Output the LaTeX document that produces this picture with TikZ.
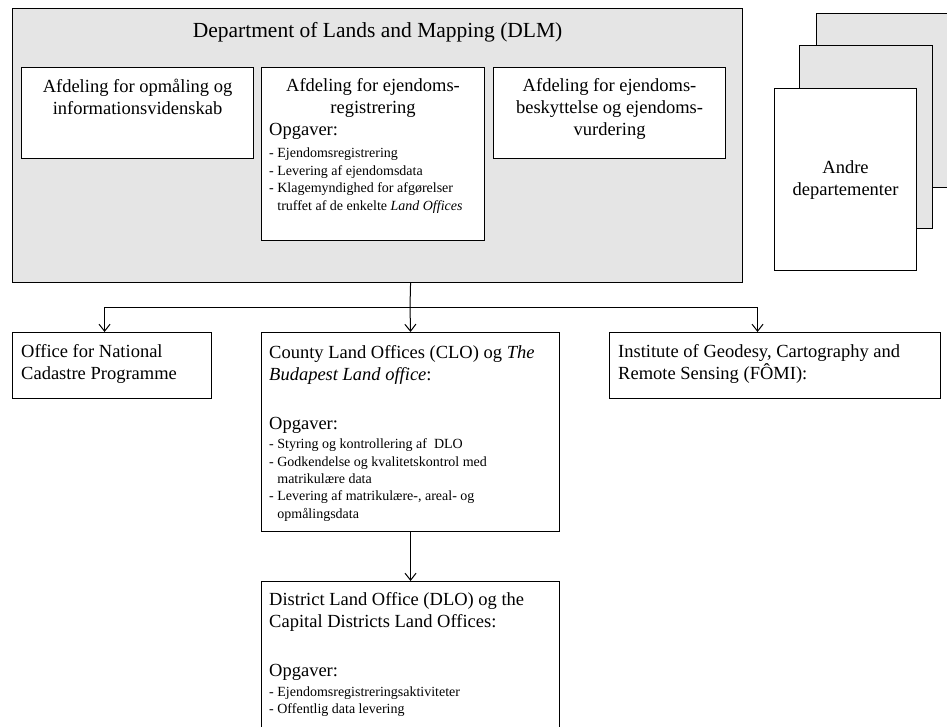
\documentclass[tikz,border=0pt]{standalone}
\usepackage{fontspec}
\setmainfont{Liberation Serif}
\usepackage{xcolor}
\usetikzlibrary{positioning,arrows.meta}
\setlength{\parindent}{0pt}
\definecolor{dlmgray}{gray}{0.9}
\newcommand{\titletxt}{\fontsize{21.5}{26}\selectfont}
\newcommand{\bigtxt}{\fontsize{18.5}{22}\selectfont}
\newcommand{\smalltxt}{\fontsize{14}{17.4}\selectfont}

\begin{document}
\begin{tikzpicture}[
    x=1pt, y=-1pt,
    frame/.style={draw, line width=1.1pt, fill=white, anchor=north west, inner sep=0pt},
    grayframe/.style={frame, fill=dlmgray},
    ctxt/.style={inner sep=0pt, anchor=north, align=center, font=\bigtxt},
    ltxt/.style={inner sep=0pt, anchor=north west, align=flush left, font=\bigtxt},
    arrow/.style={-{Straight Barb[length=7pt,width=11pt]}, line width=1pt}
]
    \useasboundingbox (0,0) rectangle (947,726);
    \clip (0,0) rectangle (947,726);

    % DLM and its departments
    \node[grayframe, minimum width=730pt, minimum height=274pt] (dlm) at (12,8) {};
    \node[ctxt, font=\titletxt, below=14pt of dlm.north] (dlmtitle) {Department of Lands and Mapping (DLM)};
    \node[frame, minimum width=232pt, minimum height=91pt] (opm) at (21,67) {};
    \node[frame, minimum width=223pt, minimum height=173pt] (reg) at (261,67) {};
    \node[frame, minimum width=232pt, minimum height=91pt] (vur) at (493,67) {};
    \node[ctxt, below=11.5pt of opm.north] (opmtxt) {Afdeling for opmåling og\\informationsvidenskab};
    \node[ctxt, below=11.5pt of reg.north] (regtitle) {Afdeling for ejendoms-\\registrering};
    \node[ltxt, text width=210pt, below right=56pt and 8pt of reg.north west] (regtxt)
        {Opgaver:\par\vspace{5pt}{\smalltxt - Ejendomsregistrering\\- Levering af ejendomsdata\\- Klagemyndighed for afgørelser\\\phantom{- }truffet af de enkelte \textit{Land Offices}\par}};
    \node[ctxt, below=11.5pt of vur.north] (vurtxt) {Afdeling for ejendoms-\\beskyttelse og ejendoms-\\vurdering};

    % Other departments (stack)
    \node[grayframe, minimum width=150pt, minimum height=174pt] (page3) at (816,13) {};
    \node[grayframe, minimum width=133pt, minimum height=183pt] (page2) at (799,45) {};
    \node[frame, minimum width=142pt, minimum height=182pt, align=center, font=\bigtxt] (andre) at (774,88) {Andre\\departementer};

    % Offices below DLM
    \node[frame, minimum width=199pt, minimum height=66pt] (ncp) at (12,332) {};
    \node[frame, minimum width=298pt, minimum height=199pt] (clo) at (261,332) {};
    \node[frame, minimum width=331pt, minimum height=66pt] (fomi) at (609,332) {};
    \node[frame, minimum width=298pt, minimum height=180pt] (dlo) at (261,581) {};
    \node[ltxt, below right=12.5pt and 9pt of ncp.north west] (ncptxt) {Office for National\\Cadastre Programme};
    \node[ltxt, text width=285pt, below right=13pt and 8pt of clo.north west] (clotxt)
        {County Land Offices (CLO) og \textit{The}\\\textit{Budapest Land office}:\\[27pt]Opgaver:\par\vspace{2pt}{\smalltxt - Styring og kontrollering af \ DLO\\- Godkendelse og kvalitetskontrol med\\\phantom{- }matrikulære data\\- Levering af matrikulære-, areal- og\\\phantom{- }opmålingsdata\par}};
    \node[ltxt, below right=12.5pt and 9pt of fomi.north west] (fomitxt) {Institute of Geodesy, Cartography and\\Remote Sensing (FÔMI):};
    \node[ltxt, text width=285pt, below right=11.5pt and 8pt of dlo.north west] (dlotxt)
        {District Land Office (DLO) og the\\Capital Districts Land Offices:\\[27pt]Opgaver:\par\vspace{2pt}{\smalltxt - Ejendomsregistreringsaktiviteter\\- Offentlig data levering\par}};

    % Arrows
    \coordinate (hub) at (410,307);
    \draw[line width=1pt] (dlm.south -| clo.north) -- (hub);
    \draw[arrow] (hub) -- (clo.north);
    \draw[arrow] (hub) -| ([xshift=-7.5pt]ncp.north);
    \draw[arrow] (hub) -| ([xshift=-17.5pt]fomi.north);
    \draw[arrow] (clo.south) -- (dlo.north);
\end{tikzpicture}
\end{document}
